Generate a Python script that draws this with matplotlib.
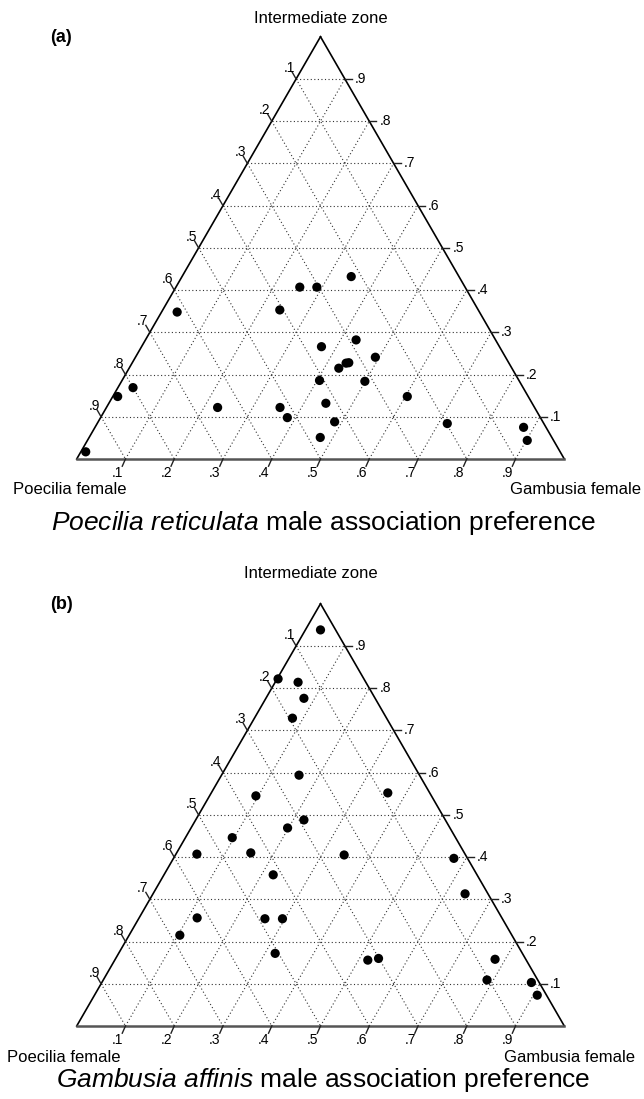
import numpy as np
import matplotlib.pyplot as plt

plt.rcParams['font.family'] = ['Liberation Sans', 'DejaVu Sans']
plt.rcParams['mathtext.fontset'] = 'custom'
plt.rcParams['mathtext.rm'] = 'Liberation Sans'
plt.rcParams['mathtext.it'] = 'Liberation Sans:italic'

# axis ticks shared by both triangles
ticks = [0.1, 0.2, 0.3, 0.4, 0.5, 0.6, 0.7, 0.8, 0.9]
tick_labels = ['.1', '.2', '.3', '.4', '.5', '.6', '.7', '.8', '.9']

# (a) Poecilia reticulata males: proportion of time near Gambusia female / intermediate zone
a_gambusia = [0.010, 0.010, 0.031, 0.032, 0.228, 0.240, 0.356, 0.383, 0.254, 0.289,
              0.369, 0.405, 0.445, 0.474, 0.347, 0.432, 0.492, 0.439, 0.444, 0.430,
              0.499, 0.604, 0.485, 0.718, 0.879, 0.902]
a_intermediate = [0.017, 0.148, 0.169, 0.348, 0.122, 0.353, 0.122, 0.098, 0.407, 0.407,
                  0.266, 0.186, 0.132, 0.051, 0.432, 0.282, 0.241, 0.227, 0.228, 0.215,
                  0.184, 0.148, 0.088, 0.084, 0.075, 0.044]

# (b) Gambusia affinis males
b_gambusia = [0.031, 0.002, 0.047, 0.078, 0.078, 0.159, 0.095, 0.222, 0.198, 0.096,
              0.362, 0.043, 0.152, 0.224, 0.119, 0.104, 0.259, 0.295, 0.321, 0.346,
              0.575, 0.640, 0.519, 0.539, 0.779, 0.787, 0.881, 0.908]
b_intermediate = [0.938, 0.822, 0.814, 0.776, 0.729, 0.594, 0.545, 0.488, 0.469, 0.446,
                  0.552, 0.407, 0.410, 0.358, 0.256, 0.215, 0.254, 0.254, 0.172, 0.405,
                  0.397, 0.313, 0.156, 0.160, 0.158, 0.109, 0.103, 0.073]

H = np.sqrt(3) / 2
PX = 487.6  # pixels per unit triangle side


def tern(g, i):
    g = np.asarray(g, dtype=float)
    i = np.asarray(i, dtype=float)
    return g + i / 2, i * H


def draw_panel(ax, g, i, letter, title, iz_dx, iz_dy, title_dy, left_x, right_x, lab_dy):
    ax.set_axis_off()
    grid = dict(color='#333333', lw=0.8, ls=(0, (1, 2.2)), zorder=1)
    for t in ticks:
        # constant intermediate
        ax.plot(*tern([0, 1 - t], [t, t]), **grid)
        # constant gambusia
        ax.plot(*tern([t, t], [0, 1 - t]), **grid)
        # constant poecilia
        ax.plot(*tern([0, 1 - t], [1 - t, 0]), **grid)

    # triangle edges
    ax.plot(*tern([0, 0], [0, 1]), color='black', lw=1.2, zorder=2)
    ax.plot(*tern([0, 1], [1, 0]), color='black', lw=1.2, zorder=2)
    ax.plot(*tern([0, 1], [0, 0]), color='#555555', lw=1.8, zorder=2)

    L = 8 / PX
    for t, lab in zip(ticks, tick_labels):
        # bottom axis (Gambusia female)
        x0, y0 = tern(t, 0)
        ax.plot([x0, x0 - 0.4 * L], [y0, y0 - 0.9 * L], color='#222222', lw=1, zorder=2)
        ax.text(x0 - 8 / PX, y0 - 7 / PX, lab, ha='center', va='top', fontsize=10)
        # left axis (Poecilia female)
        x0, y0 = tern(0, 1 - t)
        ax.plot([x0, x0 - 0.5 * L], [y0, y0 + H * L], color='#222222', lw=1, zorder=2)
        ax.text(x0 - 7 / PX, y0 + 11 / PX, lab, ha='center', va='center', fontsize=10)
        # right axis (Intermediate zone)
        x0, y0 = tern(1 - t, t)
        ax.plot([x0, x0 + 7 / PX], [y0, y0], color='#222222', lw=1, zorder=2)
        ax.text(x0 + 10 / PX, y0, lab, ha='left', va='center', fontsize=10)

    ax.scatter(*tern(g, i), s=44, color='black', edgecolor='none', zorder=3)

    ax.text(0.5 + iz_dx / PX, H + iz_dy / PX, 'Intermediate zone', ha='center', va='center',
            fontsize=12)
    ax.text(-27 / PX, H - 1 / PX, letter, ha='left', va='center', fontsize=13, fontweight='bold')
    ax.text(left_x / PX, -lab_dy / PX, 'Poecilia female', ha='left', va='center', fontsize=12)
    ax.text(right_x / PX, -lab_dy / PX, 'Gambusia female', ha='right', va='center', fontsize=12)
    ax.text(0.5 + 3 / PX, -title_dy / PX, title, ha='center', va='baseline', fontsize=19)


fig = plt.figure(figsize=(6.44, 10.99), dpi=100)
W, FH = 644, 1099

ax_a = fig.add_axes([0, 1 - 540 / FH, 1, 540 / FH])
ax_a.set_xlim(-76.7 / PX, (W - 76.7) / PX)
ax_a.set_ylim((459 - 540) / PX, 459 / PX)
draw_panel(ax_a, a_gambusia, a_intermediate, '(a)',
           r'$\it{Poecilia\ reticulata}$ male association preference',
           iz_dx=0, iz_dy=18, title_dy=71, left_x=13 - 76.7, right_x=641 - 76.7, lab_dy=31)

ax_b = fig.add_axes([0, 0, 1, 559 / FH])
ax_b.set_xlim(-76.7 / PX, (W - 76.7) / PX)
ax_b.set_ylim((1026 - 1099) / PX, (1026 - 540) / PX)
draw_panel(ax_b, b_gambusia, b_intermediate, '(b)',
           r'$\it{Gambusia\ affinis}$ male association preference',
           iz_dx=-10, iz_dy=30, title_dy=61, left_x=7 - 76.7, right_x=635 - 76.7, lab_dy=32)

fig.savefig('out.png', dpi=100)
